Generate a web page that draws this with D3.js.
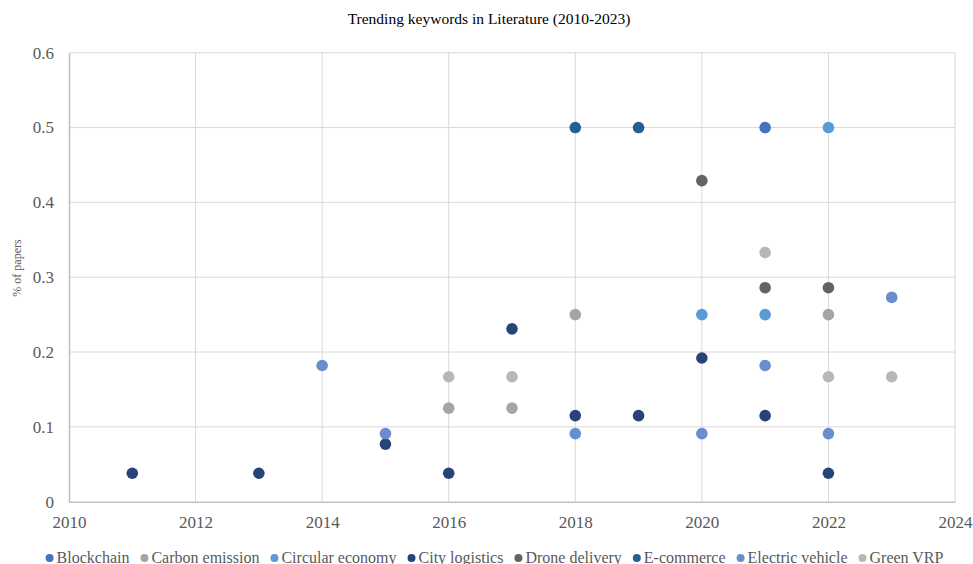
<!DOCTYPE html>
<html>
<head>
<meta charset="utf-8">
<script src="https://cdn.jsdelivr.net/npm/d3@7"></script>
<style>
html,body{margin:0;padding:0;background:#fff;}
svg{display:block;}
</style>
</head>
<body>
<svg id="chart" width="973" height="564"></svg>
<script>
const title = "Trending keywords in Literature (2010-2023)";
const yTitle = "% of papers";
const xTicks = [2010, 2012, 2014, 2016, 2018, 2020, 2022, 2024];
const yTicks = [0, 0.1, 0.2, 0.3, 0.4, 0.5, 0.6];

const seriesNames = ["Blockchain", "Carbon emission", "Circular economy", "City logistics",
  "Drone delivery", "E-commerce", "Electric vehicle", "Green VRP"];
const seriesColors = ["#4472C4", "#A5A5A5", "#5B9BD5", "#264478",
  "#636363", "#255E91", "#698ED0", "#B7B7B7"];

const blockchainYears = [2021];
const blockchainValues = [0.5];
const carbonYears = [2016, 2017, 2018, 2022];
const carbonValues = [0.125, 0.125, 0.25, 0.25];
const circularYears = [2020, 2021, 2022];
const circularValues = [0.25, 0.25, 0.5];
const cityYears = [2011, 2013, 2015, 2016, 2017, 2018, 2019, 2020, 2021, 2022];
const cityValues = [0.038, 0.038, 0.077, 0.038, 0.231, 0.115, 0.115, 0.192, 0.115, 0.038];
const droneYears = [2020, 2021, 2022];
const droneValues = [0.429, 0.286, 0.286];
const ecommerceYears = [2018, 2019];
const ecommerceValues = [0.5, 0.5];
const evYears = [2014, 2015, 2018, 2020, 2021, 2022, 2023];
const evValues = [0.182, 0.091, 0.091, 0.091, 0.182, 0.091, 0.273];
const greenYears = [2016, 2017, 2021, 2022, 2023];
const greenValues = [0.167, 0.167, 0.333, 0.167, 0.167];

const seriesYears = [blockchainYears, carbonYears, circularYears, cityYears, droneYears, ecommerceYears, evYears, greenYears];
const seriesValues = [blockchainValues, carbonValues, circularValues, cityValues, droneValues, ecommerceValues, evValues, greenValues];

const series = seriesNames.map((name, i) => ({
  name, color: seriesColors[i],
  points: seriesYears[i].map((yr, j) => ({x: yr, y: seriesValues[i][j]}))
}));

const svg = d3.select("#chart");
const font = "'Liberation Serif', 'Times New Roman', serif";
const textColor = "#595959";

const x = d3.scaleLinear().domain([2010, 2024]).range([69, 955]);
const y = d3.scaleLinear().domain([0, 0.6]).range([501.7, 52.7]);

// gridlines
const grid = svg.append("g");
grid.selectAll("line.h").data(yTicks.filter(d => d > 0)).enter().append("line")
  .attr("x1", x(2010)).attr("x2", x(2024))
  .attr("y1", d => y(d)).attr("y2", d => y(d))
  .attr("stroke", "#D9D9D9").attr("stroke-width", 1);
grid.selectAll("line.v").data(xTicks.filter(d => d > 2010)).enter().append("line")
  .attr("x1", d => x(d)).attr("x2", d => x(d))
  .attr("y1", y(0)).attr("y2", y(0.6))
  .attr("stroke", "#D9D9D9").attr("stroke-width", 1);

// axes
const xAxis = d3.axisBottom(x).tickValues(xTicks).tickFormat(d3.format("d")).tickSize(0).tickPadding(14);
const gx = svg.append("g").attr("transform", `translate(0,${y(0)})`).call(xAxis);
gx.select(".domain").attr("stroke", "#BFBFBF").attr("stroke-width", 1.5);
gx.selectAll("text").attr("font-family", font).attr("font-size", 17).attr("fill", textColor);

const yAxis = d3.axisLeft(y).tickValues(yTicks).tickFormat(d => d === 0 ? "0" : d3.format(".1f")(d)).tickSize(0).tickPadding(15);
const gy = svg.append("g").attr("transform", `translate(${x(2010)},0)`).call(yAxis);
gy.select(".domain").attr("stroke", "#BFBFBF").attr("stroke-width", 1.5);
gy.selectAll("text").attr("font-family", font).attr("font-size", 17).attr("fill", textColor);

// points
series.forEach(s => {
  svg.append("g").selectAll("circle").data(s.points).enter().append("circle")
    .attr("cx", d => x(d.x)).attr("cy", d => y(d.y)).attr("r", 5.8)
    .attr("fill", s.color);
});

// title
svg.append("text").attr("x", 489).attr("y", 24).attr("text-anchor", "middle")
  .attr("font-family", font).attr("font-size", 15.5).attr("fill", "#000").text(title);

// y title
svg.append("text").attr("transform", "translate(21,268) rotate(-90)").attr("text-anchor", "middle")
  .attr("font-family", font).attr("font-size", 12).attr("fill", textColor).text(yTitle);

// legend
const legend = svg.append("g");
let lx = 0;
series.forEach(s => {
  const g = legend.append("g");
  g.append("circle").attr("cx", lx + 4).attr("cy", 558).attr("r", 4).attr("fill", s.color);
  const t = g.append("text").attr("x", lx + 11).attr("y", 562.5)
    .attr("font-family", font).attr("font-size", 16).attr("fill", textColor).text(s.name);
  const w = t.node().getComputedTextLength();
  lx += 11 + w + 11;
});
const total = lx - 11;
legend.attr("transform", `translate(${494.5 - total / 2},0)`);
</script>
</body>
</html>
